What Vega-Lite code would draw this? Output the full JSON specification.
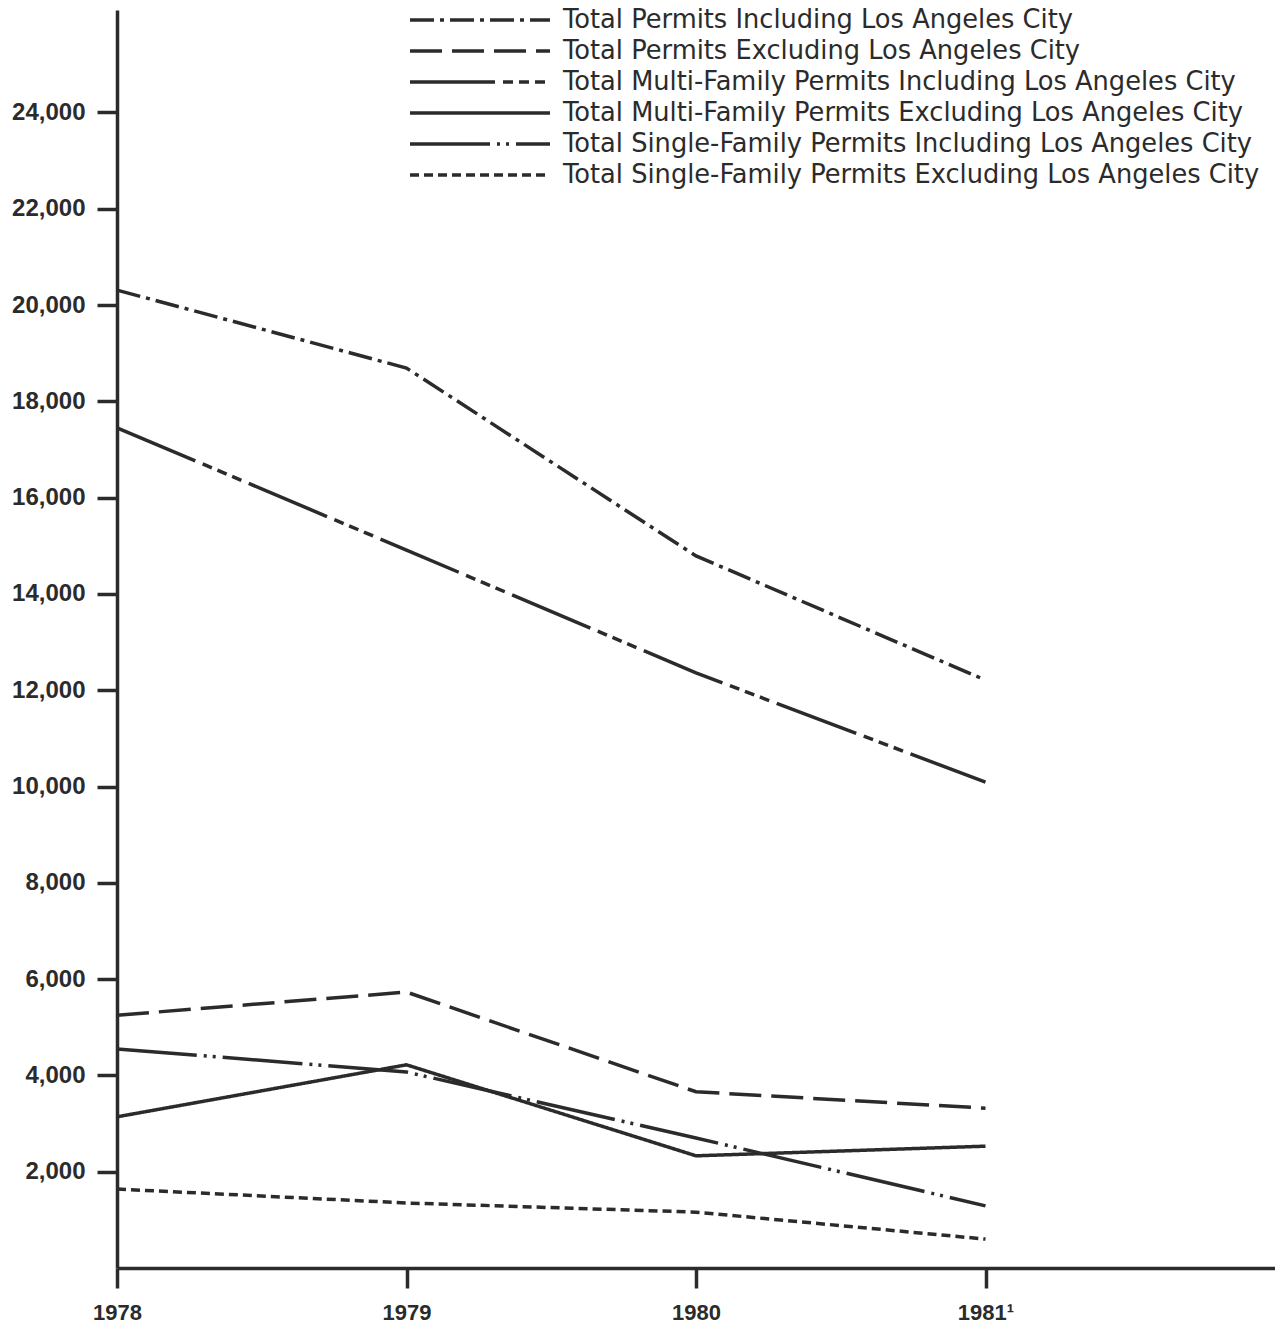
{
  "$schema": "https://vega.github.io/schema/vega-lite/v6.json",
  "width": 1158,
  "height": 1258,
  "autosize": {"type": "none"},
  "padding": {"left": 117, "top": 10, "right": 0, "bottom": 62},
  "background": "white",
  "config": {"view": {"stroke": null}, "axis": {"grid": false}},
  "data": {
    "values": [
      {"series": "Total Permits Including Los Angeles City", "year": 1978, "permits": 20310},
      {"series": "Total Permits Including Los Angeles City", "year": 1979, "permits": 18690},
      {"series": "Total Permits Including Los Angeles City", "year": 1980, "permits": 14790},
      {"series": "Total Permits Including Los Angeles City", "year": 1981, "permits": 12210},
      {"series": "Total Permits Excluding Los Angeles City", "year": 1978, "permits": 5250},
      {"series": "Total Permits Excluding Los Angeles City", "year": 1979, "permits": 5730},
      {"series": "Total Permits Excluding Los Angeles City", "year": 1980, "permits": 3660},
      {"series": "Total Permits Excluding Los Angeles City", "year": 1981, "permits": 3320},
      {"series": "Total Multi-Family Permits Including Los Angeles City", "year": 1978, "permits": 17450},
      {"series": "Total Multi-Family Permits Including Los Angeles City", "year": 1979, "permits": 14910},
      {"series": "Total Multi-Family Permits Including Los Angeles City", "year": 1980, "permits": 12360},
      {"series": "Total Multi-Family Permits Including Los Angeles City", "year": 1981, "permits": 10090},
      {"series": "Total Multi-Family Permits Excluding Los Angeles City", "year": 1978, "permits": 3140},
      {"series": "Total Multi-Family Permits Excluding Los Angeles City", "year": 1979, "permits": 4220},
      {"series": "Total Multi-Family Permits Excluding Los Angeles City", "year": 1980, "permits": 2330},
      {"series": "Total Multi-Family Permits Excluding Los Angeles City", "year": 1981, "permits": 2530},
      {"series": "Total Single-Family Permits Including Los Angeles City", "year": 1978, "permits": 4550},
      {"series": "Total Single-Family Permits Including Los Angeles City", "year": 1979, "permits": 4070},
      {"series": "Total Single-Family Permits Including Los Angeles City", "year": 1980, "permits": 2700},
      {"series": "Total Single-Family Permits Including Los Angeles City", "year": 1981, "permits": 1290},
      {"series": "Total Single-Family Permits Excluding Los Angeles City", "year": 1978, "permits": 1640},
      {"series": "Total Single-Family Permits Excluding Los Angeles City", "year": 1979, "permits": 1350},
      {"series": "Total Single-Family Permits Excluding Los Angeles City", "year": 1980, "permits": 1160},
      {"series": "Total Single-Family Permits Excluding Los Angeles City", "year": 1981, "permits": 600}
    ]
  },
  "mark": {"type": "line", "strokeWidth": 3.5, "color": "#2b2b2b", "strokeCap": "butt", "strokeJoin": "miter"},
  "encoding": {
    "x": {
      "field": "year",
      "type": "quantitative",
      "scale": {"domain": [1978, 1982], "nice": false, "zero": false},
      "axis": {
        "title": null,
        "values": [1978, 1979, 1980, 1981],
        "labelExpr": "datum.value == 1981 ? '1981\u00b9' : '' + datum.value",
        "labelFlush": false,
        "labelFont": "Liberation Sans",
        "labelFontWeight": "bold",
        "labelFontSize": 22,
        "labelColor": "#2b2b2b",
        "labelPadding": 14,
        "tickSize": 20,
        "tickWidth": 3.5,
        "tickColor": "#2b2b2b",
        "domainColor": "#2b2b2b",
        "domainWidth": 3.5
      }
    },
    "y": {
      "field": "permits",
      "type": "quantitative",
      "scale": {"domain": [0, 26127], "nice": false},
      "axis": {
        "title": null,
        "values": [2000, 4000, 6000, 8000, 10000, 12000, 14000, 16000, 18000, 20000, 22000, 24000],
        "format": ",d",
        "labelFont": "Liberation Sans",
        "labelFontWeight": "bold",
        "labelFontSize": 24,
        "labelColor": "#2b2b2b",
        "labelPadding": 12,
        "tickSize": 20,
        "tickWidth": 3.5,
        "tickColor": "#2b2b2b",
        "domainColor": "#2b2b2b",
        "domainWidth": 3.5
      }
    },
    "strokeDash": {
      "field": "series",
      "type": "nominal",
      "scale": {
        "domain": [
          "Total Permits Including Los Angeles City",
          "Total Permits Excluding Los Angeles City",
          "Total Multi-Family Permits Including Los Angeles City",
          "Total Multi-Family Permits Excluding Los Angeles City",
          "Total Single-Family Permits Including Los Angeles City",
          "Total Single-Family Permits Excluding Los Angeles City"
        ],
        "range": [[24, 6, 4, 6], [32, 10], [85, 8, 10, 6, 10, 6, 10, 8], [1, 0], [80, 7, 3, 6, 3, 7], [9, 5]]
      },
      "legend": {
        "title": null,
        "orient": "none",
        "legendX": 291,
        "legendY": -5.5,
        "padding": 0,
        "clipHeight": 31,
        "rowPadding": 0,
        "symbolType": "stroke",
        "symbolSize": 19600,
        "symbolStrokeWidth": 3.5,
        "symbolStrokeColor": "#2b2b2b",
        "labelOffset": 11,
        "labelFont": "DejaVu Sans",
        "labelFontSize": 25.7,
        "labelColor": "#2b2b2b",
        "labelLimit": 0
      }
    }
  }
}
